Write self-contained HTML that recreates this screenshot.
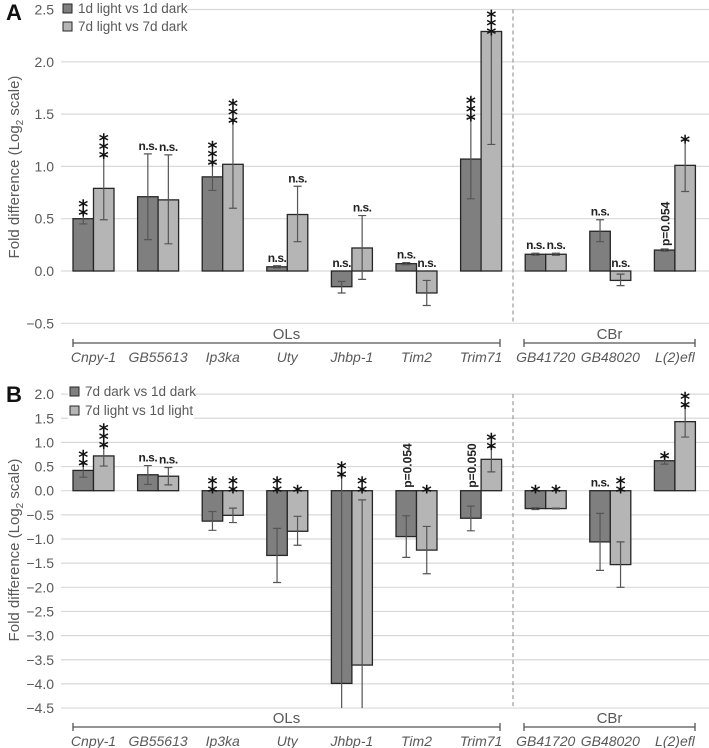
<!DOCTYPE html>
<html><head><meta charset="utf-8"><style>
body{margin:0;background:#fff}
svg{display:block;font-family:"Liberation Sans",sans-serif}
</style></head><body>
<svg id="c" width="709" height="748"></svg>
<script>
const categories=["Cnpy-1","GB55613","Ip3ka","Uty","Jhbp-1","Tim2","Trim71","GB41720","GB48020","L(2)efl"];
const aDark=[0.50,0.71,0.90,0.04,-0.15,0.07,1.07,0.16,0.38,0.20];
const aDarkLo=[0.45,0.30,0.77,0.03,-0.21,0.06,0.69,0.15,0.28,0.19];
const aDarkHi=[0.55,1.12,1.03,0.05,-0.10,0.08,1.46,0.17,0.49,0.21];
const aLight=[0.79,0.68,1.02,0.54,0.22,-0.21,2.29,0.16,-0.09,1.01];
const aLightLo=[0.49,0.26,0.60,0.28,-0.08,-0.33,1.21,0.15,-0.14,0.76];
const aLightHi=[1.10,1.11,1.43,0.81,0.53,-0.09,3.37,0.17,-0.03,1.25];
const aDarkSig=["**","n.s.","***","n.s.","n.s.","n.s.","***","n.s.","n.s.","p=0.054"];
const aLightSig=["***","n.s.","***","n.s.","n.s.","n.s.","***","n.s.","n.s.","*"];
const aTicks=[2.5,2.0,1.5,1.0,0.5,0.0,-0.5];
const bDark=[0.42,0.33,-0.63,-1.34,-3.99,-0.95,-0.57,-0.37,-1.06,0.62];
const bDarkLo=[0.28,0.13,-0.82,-1.90,-8.0,-1.38,-0.83,-0.39,-1.65,0.55];
const bDarkHi=[0.55,0.52,-0.43,-0.78,0.31,-0.52,-0.32,-0.35,-0.47,0.70];
const bLight=[0.72,0.30,-0.51,-0.84,-3.61,-1.23,0.65,-0.37,-1.53,1.43];
const bLightLo=[0.51,0.12,-0.66,-1.13,-7.0,-1.72,0.39,-0.38,-2.00,1.11];
const bLightHi=[0.93,0.48,-0.36,-0.53,-0.19,-0.74,0.90,-0.36,-1.06,1.75];
const bDarkSig=["**","n.s.","**","**","**","p=0.054","p=0.050","*","n.s.","*"];
const bLightSig=["***","n.s.","**","*","**","*","**","*","**","**"];
const bTicks=[2.0,1.5,1.0,0.5,0.0,-0.5,-1.0,-1.5,-2.0,-2.5,-3.0,-3.5,-4.0,-4.5];

const NS="http://www.w3.org/2000/svg";
const svg=document.getElementById('c');
function mk(tag,attrs,parent,text){const e=document.createElementNS(NS,tag);for(const k in attrs)e.setAttribute(k,attrs[k]);if(text!==undefined)e.textContent=text;(parent||svg).appendChild(e);return e;}
const bandW=64.6,left=61.2,barW=20.5;
function xDark(i){return left+bandW*i+11.8;}

function panel(opt){
  const g=mk('g',{});
  
  
  const y=v=>opt.zeroY-v*opt.ppu;
  const tmax=opt.ticks[0],tmin=opt.ticks[opt.ticks.length-1];
  const top=y(tmax),bot=y(tmin);
  opt.ticks.forEach(t=>{
    const l=mk('line',{x1:61,x2:709,y1:y(t),y2:y(t),stroke:'#d9d9d9','stroke-width':1.2},g);
    
    
    const tx=mk('text',{x:54,y:y(t)+5,'text-anchor':'end','font-size':14,fill:'#595959'},g,(t<0?'\u2212'+Math.abs(t).toFixed(1):t.toFixed(1)));
    
    
  });
  const d=mk('line',{x1:513,x2:513,y1:top,y2:bot,stroke:'#888','stroke-dasharray':'4,3'},g);
  
  
  opt.legend.forEach((s,k)=>{
    const ly=opt.legY+k*opt.legGap;
    const lg=mk('g',{},g);
    
    
    mk('rect',{x:opt.legX-2,y:ly-13,width:126,height:17,fill:'#fff'},lg);
    mk('rect',{x:opt.legX,y:ly-9,width:9,height:9,fill:k?'#b5b5b5':'#7f7f7f',stroke:'#262626','stroke-width':1},lg);
    mk('text',{x:opt.legX+15,y:ly,'font-size':13.5,fill:'#595959'},lg,s);
  });
  const series=[[opt.dark,opt.darkLo,opt.darkHi,opt.darkSig,'#7f7f7f',0],[opt.light,opt.lightLo,opt.lightHi,opt.lightSig,'#b5b5b5',barW]];
  series.forEach((s,si)=>{
    categories.forEach((c,i)=>{
      const v=s[0][i],x=xDark(i)+s[5];
      const r=mk('rect',{x:x,y:Math.min(y(v),y(0)),width:barW,height:Math.abs(y(v)-y(0)),fill:s[4],stroke:'#262626','stroke-width':1.3},g);
      
      
      const cx=x+barW/2;
      const loClip=s[1][i]<tmin,hiClip=s[2][i]>tmax;
      const lo=Math.max(s[1][i],tmin),hi=Math.min(s[2][i],tmax);
      let dd=`M${cx},${y(lo)}V${y(hi)}`;
      if(!loClip)dd+=`M${cx-4},${y(lo)}h8`;
      if(!hiClip)dd+=`M${cx-4},${y(hi)}h8`;
      const e=mk('path',{d:dd,stroke:'#555','stroke-width':1.2,fill:'none'},g);
      
      
      const lab=s[3][i];
      let base=hiClip?y(v)-2:Math.min(y(0),y(hi),y(v))-3;
      if(lab.startsWith('p=')){
        const t=mk('text',{transform:`translate(${cx+5},${base}) rotate(-90)`,'font-size':12,'font-weight':'bold',fill:'#222'},g,lab);
        
        
      }else if(lab==='n.s.'){
        const t=mk('text',{x:cx,y:base-1,'text-anchor':'middle','font-size':12,'font-weight':'bold',fill:'#222','letter-spacing':'-0.5'},g,lab);
        
        
      }else{
        for(let k=0;k<lab.length;k++){
          const t=mk('text',{x:cx,y:base+11-k*8.5,'text-anchor':'middle','font-size':19,'font-weight':'bold','font-family':'DejaVu Sans, sans-serif',fill:'#111'},g,'*');
          
          
        }
      }
    });
  });
  categories.forEach((c,i)=>{
    const t=mk('text',{x:left+bandW*(i+0.5),y:opt.catY,'text-anchor':'middle','font-size':14,'font-style':'italic',fill:'#595959'},g,c);
    
    
  });
  [['OLs',73,500],['CBr',524,695]].forEach(b=>{
    const p=mk('path',{d:`M${b[1]},${opt.brY-4}v8M${b[1]},${opt.brY}H${b[2]}M${b[2]},${opt.brY-4}v8`,stroke:'#555','stroke-width':1.3,fill:'none'},g);
    
    
    const t=mk('text',{x:(b[1]+b[2])/2,y:opt.brY-4,'text-anchor':'middle','font-size':15,fill:'#595959'},g,b[0]);
    
    
  });
  const at=mk('text',{transform:`translate(19,${opt.titleY}) rotate(-90)`,'text-anchor':'middle','font-size':15,fill:'#595959'},g);
  
  
  mk('tspan',{},at,'Fold difference (Log');mk('tspan',{'font-size':10,dy:4},at,'2');mk('tspan',{dy:-4},at,' scale)');
  const L=mk('text',{x:6,y:opt.letterY,'font-size':22,'font-weight':'bold',fill:'#111'},g,opt.letter);
  
  
}
panel({name:'panel-a',zeroY:271,ppu:104.6,ticks:aTicks,dark:aDark,darkLo:aDarkLo,darkHi:aDarkHi,light:aLight,lightLo:aLightLo,lightHi:aLightHi,darkSig:aDarkSig,lightSig:aLightSig,catY:362,brY:343,titleY:167,letter:'A',letterY:20,legend:['1d light vs 1d dark','7d light vs 7d dark'],legX:63,legY:13,legGap:18});
panel({name:'panel-b',zeroY:490.7,ppu:48.3,ticks:bTicks,dark:bDark,darkLo:bDarkLo,darkHi:bDarkHi,light:bLight,lightLo:bLightLo,lightHi:bLightHi,darkSig:bDarkSig,lightSig:bLightSig,catY:746,brY:727,titleY:550,letter:'B',letterY:402,legend:['7d dark vs 1d dark','7d light vs 1d light'],legX:70,legY:396,legGap:19});
</script>
</body></html>
